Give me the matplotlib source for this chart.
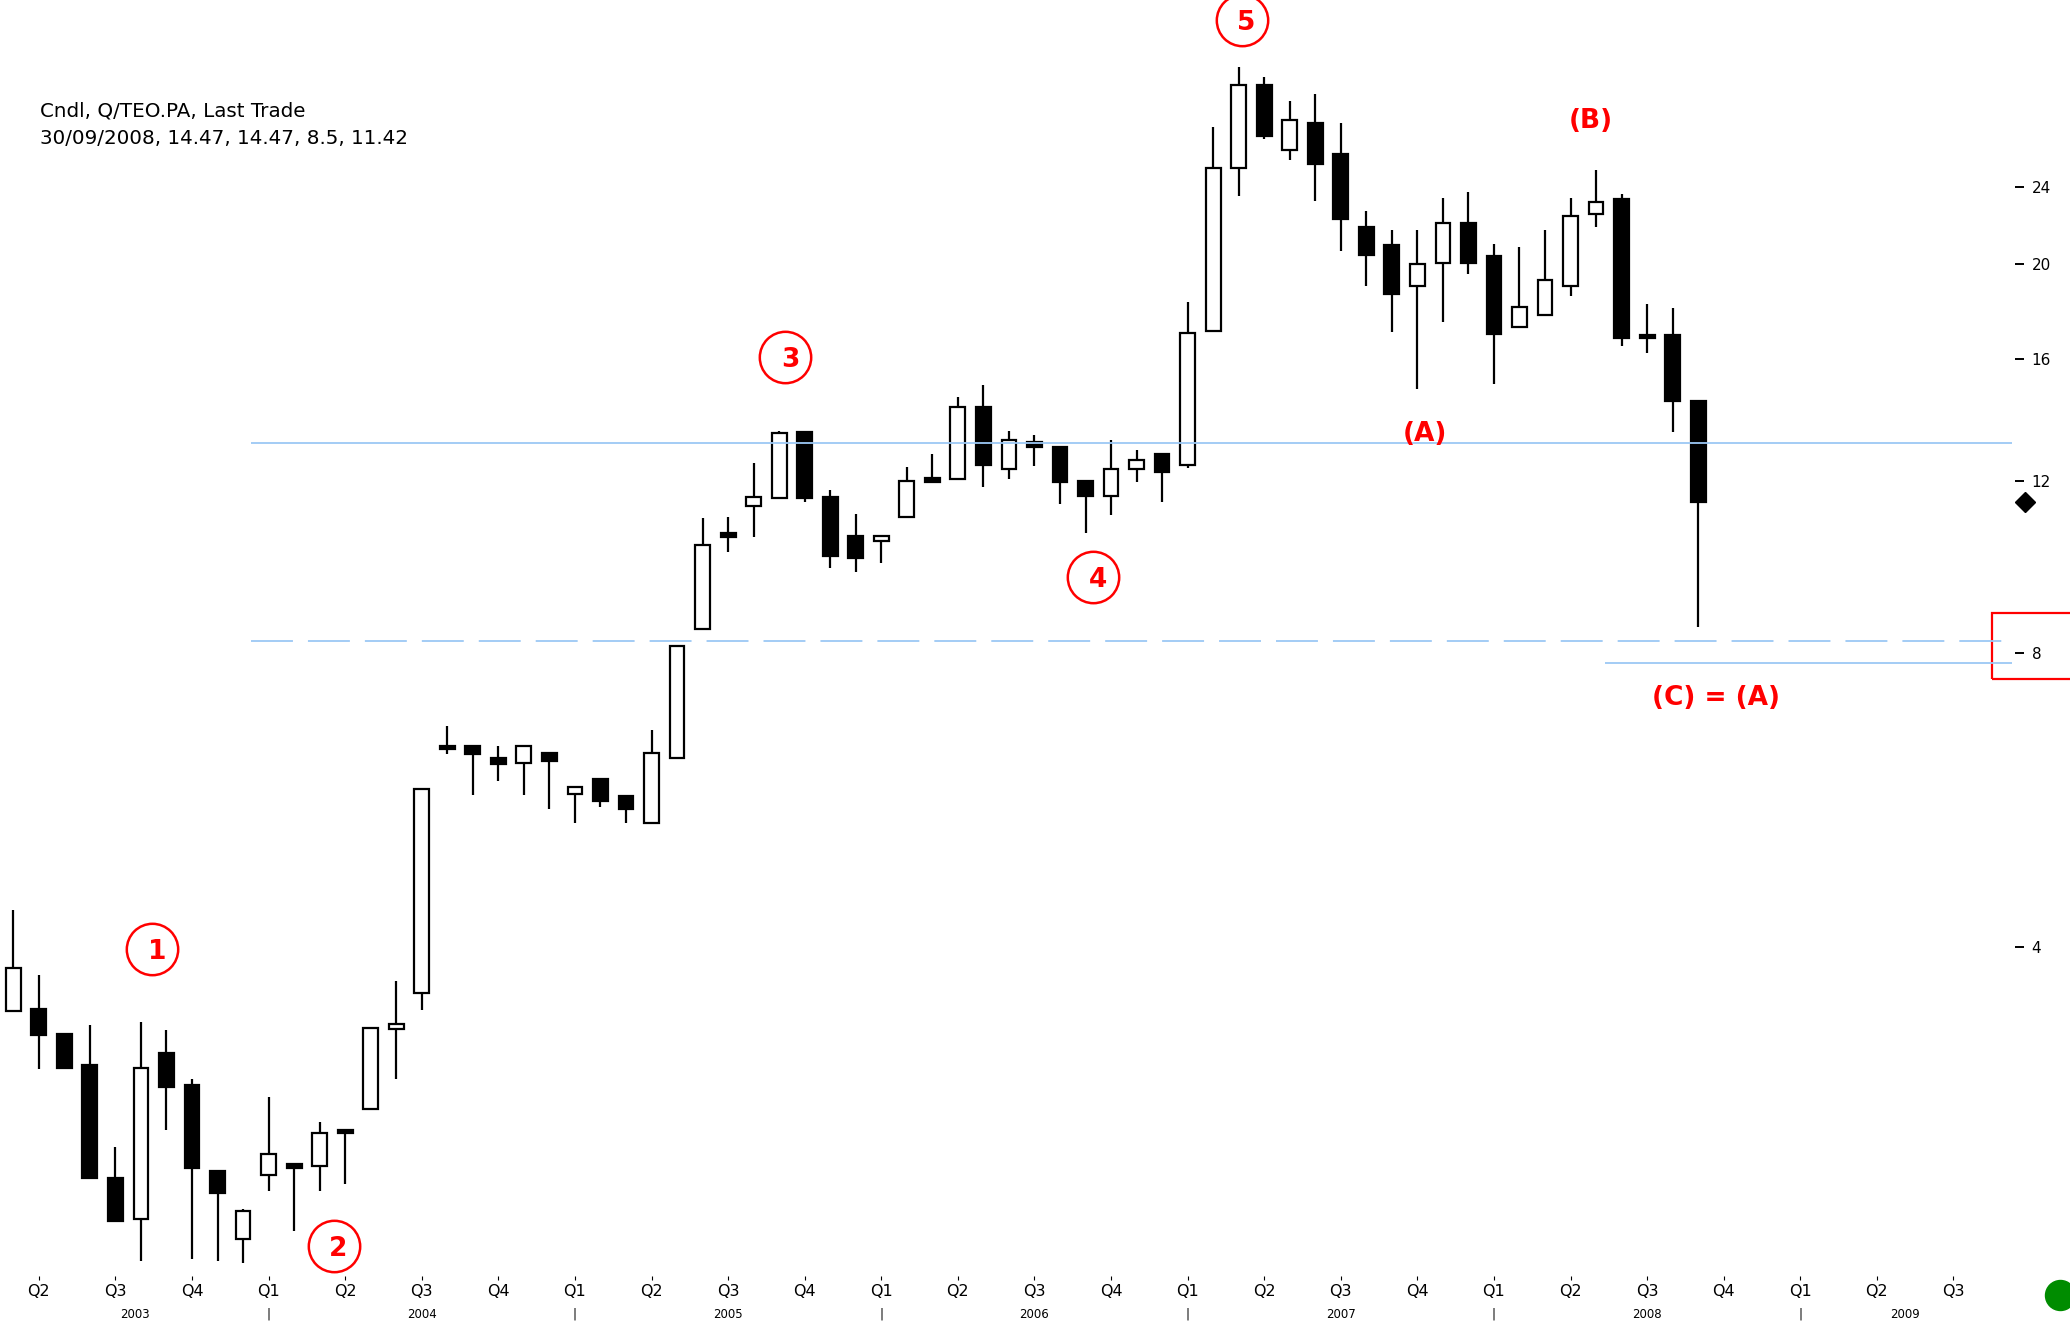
import numpy as np
import matplotlib
matplotlib.use('Agg')
import matplotlib.pyplot as plt
from matplotlib.patches import Rectangle
from matplotlib.ticker import NullLocator

# Monthly candles Q/TEO.PA, Mar 2003 .. Sep 2008
opens = [3.44, 3.46, 3.26, 3.03, 2.32, 2.11, 3.12, 2.89, 2.36, 2.01,
         2.34, 2.40, 2.39, 2.60, 2.73, 3.30, 3.59, 6.42, 6.43, 6.24,
         6.17, 6.32, 5.74, 5.94, 5.71, 5.36, 6.24, 8.46, 10.61, 11.31,
         11.52, 13.45, 11.54, 10.55, 10.42, 11.01, 12.07, 12.05, 14.29, 12.33,
         13.16, 12.99, 12.00, 11.58, 12.33, 12.77, 12.45, 17.07, 25.08, 30.52,
         26.16, 27.91, 25.94, 21.80, 20.94, 19.00, 20.07, 22.02, 20.36, 17.26,
         17.74, 18.99, 22.49, 23.31, 16.92, 16.92, 14.47]
highs = [4.37, 3.75, 3.26, 3.33, 2.50, 3.35, 3.29, 2.93, 2.36, 2.16,
         2.81, 2.40, 2.65, 2.60, 3.31, 3.69, 5.81, 6.74, 6.43, 6.43,
         6.42, 6.32, 5.83, 5.94, 5.71, 6.68, 8.14, 10.99, 11.03, 12.51,
         13.51, 13.45, 11.74, 11.10, 10.54, 12.41, 12.78, 14.63, 15.04, 13.51,
         13.37, 12.99, 12.00, 13.21, 12.91, 12.77, 18.30, 27.63, 31.81, 31.09,
         29.36, 29.88, 27.91, 22.68, 21.69, 21.69, 23.36, 23.71, 20.97, 20.83,
         21.67, 23.35, 24.96, 23.57, 18.20, 18.01, 14.47]
lows = [3.44, 3.00, 3.01, 2.32, 2.10, 1.91, 2.60, 1.92, 1.91, 1.90,
        2.25, 2.05, 2.25, 2.29, 2.73, 2.93, 3.45, 6.31, 5.73, 5.92,
        5.73, 5.54, 5.36, 5.57, 5.36, 5.36, 6.24, 8.46, 10.16, 10.52,
        11.52, 11.43, 9.77, 9.67, 9.88, 11.01, 11.98, 12.05, 11.84, 12.04,
        12.43, 11.36, 10.62, 11.07, 11.98, 11.42, 12.38, 17.02, 23.49, 26.88,
        25.56, 23.20, 20.62, 18.97, 17.04, 14.89, 17.44, 19.52, 15.08, 17.26,
        17.74, 18.55, 21.84, 16.49, 16.21, 13.47, 8.50]
closes = [3.81, 3.25, 3.01, 2.32, 2.10, 3.01, 2.88, 2.38, 2.24, 2.15,
          2.46, 2.38, 2.58, 2.58, 3.31, 3.34, 5.81, 6.38, 6.31, 6.16,
          6.42, 6.20, 5.83, 5.64, 5.54, 6.32, 8.14, 10.32, 10.52, 11.54,
          13.42, 11.52, 10.05, 10.00, 10.54, 12.00, 11.98, 14.27, 12.46, 13.21,
          12.99, 11.98, 11.58, 12.33, 12.60, 12.24, 17.01, 25.08, 30.52, 27.06,
          28.05, 25.30, 22.24, 20.41, 18.65, 20.02, 22.02, 20.07, 16.96, 18.09,
          19.26, 22.40, 23.16, 16.79, 16.79, 14.48, 11.42]

quarter_labels = ['Q2', 'Q3', 'Q4',
                  'Q1', 'Q2', 'Q3', 'Q4',
                  'Q1', 'Q2', 'Q3', 'Q4',
                  'Q1', 'Q2', 'Q3', 'Q4',
                  'Q1', 'Q2', 'Q3', 'Q4',
                  'Q1', 'Q2', 'Q3', 'Q4',
                  'Q1', 'Q2', 'Q3']
year_labels = ['2003', '2004', '2005', '2006', '2007', '2008', '2009']
price_ticks = [4, 8, 12, 16, 20, 24]

# price levels drawn on the chart
resistance = 13.13
support = 8.23
target_c = 7.82

wave_labels = ['1', '2', '3', '4', '5']
letter_labels = ['(A)', '(B)', '(C) = (A)']

plt.rcParams['lines.scale_dashes'] = False
W, H = 2070, 1330
fig = plt.figure(figsize=(W / 100, H / 100), dpi=100)
ax = fig.add_axes([0, 54 / H, 2015 / W, 1276 / H])
ax.set_yscale('log')
ax.set_xlim(-0.521, 78.41)
ax.set_ylim(1.8437, 37.25)
for s in ax.spines.values():
    s.set_visible(False)

x = np.arange(len(opens))
o = np.array(opens)
c = np.array(closes)
up = c >= o
lw = 1.6

# wicks then bodies
ax.vlines(x, lows, highs, color='black', lw=lw, zorder=2)
ax.bar(x[up], (c - o)[up], bottom=o[up], width=0.58, facecolor='white',
       edgecolor='black', linewidth=lw, zorder=3)
ax.bar(x[~up], (o - c)[~up], bottom=c[~up], width=0.58, facecolor='black',
       edgecolor='black', linewidth=lw, zorder=3)

# horizontal levels
blue = '#9cc8f5'
ax.hlines(resistance, 9.31, 78.29, color=blue, lw=1.3, zorder=4)
ax.plot([9.31, 78.29], [support, support], color=blue, lw=1.3,
        ls=(0, (30.2, 10.8)), zorder=4)
ax.hlines(target_c, 62.35, 78.29, color=blue, lw=1.3, zorder=4)

# y axis on the right
ax.yaxis.tick_right()
ax.set_yticks(price_ticks)
ax.set_yticklabels([str(t) for t in price_ticks])
ax.yaxis.set_minor_locator(NullLocator())
ax.tick_params(axis='y', length=6.5, width=1.4, pad=5.5, labelsize=11,
               colors='black')

# x axis quarters
ax.set_xticks(np.arange(1, 77, 3))
ax.set_xticklabels(quarter_labels)
ax.tick_params(axis='x', length=3, width=0.8, pad=3, labelsize=11.5)

year_x = [4.76, 16, 28, 40, 52, 64, 74.1]
for yx, lab in zip(year_x, year_labels):
    ax.annotate(lab, (yx, 0), xycoords=('data', 'axes fraction'),
                xytext=(0, -27.5), textcoords='offset points',
                ha='center', va='center', fontsize=8.5)
for qx in [10, 22, 34, 46, 58, 70]:
    ax.annotate('|', (qx, 0), xycoords=('data', 'axes fraction'),
                xytext=(0, -27.5), textcoords='offset points',
                ha='center', va='center', fontsize=8.5)

# last close marker, scale box, status dot
ax.plot(78.8, closes[-1], 'D', ms=10.5, color='black', clip_on=False)
ax.add_patch(Rectangle((77.49, 7.52), 4.0, 8.80 - 7.52, fill=False,
                       edgecolor='red', lw=1.6, clip_on=False))
ax.plot(80.17, 1.763, 'o', ms=21.6, color='#008c00', clip_on=False)

# Elliott wave count
wave_x = [5.43, 12.55, 30.23, 42.29, 48.12]
wave_y = [3.98, 1.98, 16.07, 9.57, 35.54]
for wx, wy, lab in zip(wave_x, wave_y, wave_labels):
    ax.plot(wx, wy, 'o', ms=37, mfc='none', mec='red', mew=1.8,
            clip_on=False, zorder=5)
    ax.annotate(lab, (wx, wy), xytext=(3.5, -2), textcoords='offset points',
                ha='center', va='center', color='red', fontsize=19,
                fontweight='bold', zorder=5)

letter_x = [55.3, 61.8, 66.7]
letter_y = [13.39, 28.01, 7.20]
for lx, ly, lab in zip(letter_x, letter_y, letter_labels):
    ax.text(lx, ly, lab, ha='center', va='center', color='red',
            fontsize=19, fontweight='bold', zorder=5)

fig.text(40 / W, 1 - 111 / H, 'Cndl, Q/TEO.PA, Last Trade', fontsize=14.3,
         va='center', ha='left')
fig.text(40 / W, 1 - 139 / H,
         f'30/09/2008, {opens[-1]}, {highs[-1]}, {lows[-1]}, {closes[-1]}',
         fontsize=14.3, va='center', ha='left')

fig.savefig('out.png', dpi=100)
